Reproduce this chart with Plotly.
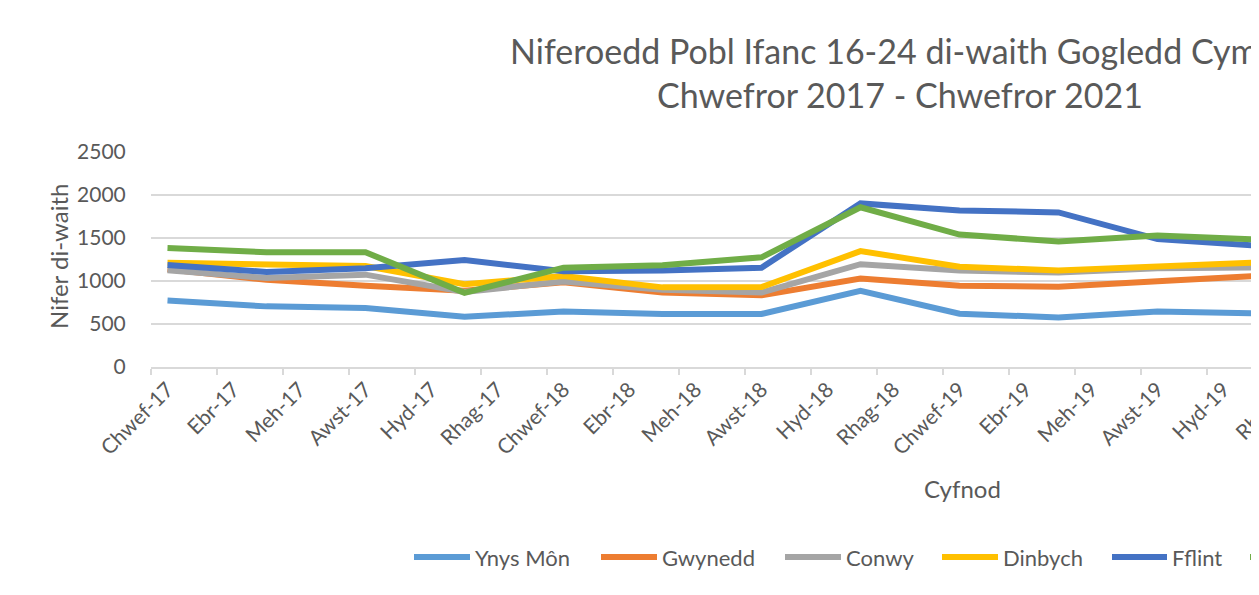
import pandas as pd
import plotly.graph_objects as go

# ---------------- data ----------------
periods = ["2017-02", "2017-05", "2017-08", "2017-11",
           "2018-02", "2018-05", "2018-08", "2018-11",
           "2019-02", "2019-05", "2019-08", "2019-11"]

ynys_mon = [773, 705, 685, 584, 645, 616, 616, 886, 620, 576, 645, 624]
gwynedd  = [1135, 1014, 946, 886, 986, 865, 833, 1030, 946, 934, 998, 1058]
conwy    = [1126, 1034, 1074, 873, 994, 898, 865, 1195, 1122, 1098, 1147, 1159]
dinbych  = [1211, 1187, 1175, 962, 1058, 926, 930, 1347, 1167, 1122, 1175, 1215]
fflint   = [1187, 1106, 1147, 1243, 1114, 1122, 1155, 1902, 1821, 1797, 1488, 1412]
wrecsam  = [1384, 1335, 1335, 862, 1155, 1183, 1275, 1857, 1540, 1460, 1528, 1484]

series_names = ["Ynys Môn", "Gwynedd", "Conwy", "Dinbych", "Fflint", "Wrecsam"]
series_values = [ynys_mon, gwynedd, conwy, dinbych, fflint, wrecsam]
series_colors = ["#5B9BD5", "#ED7D31", "#A5A5A5", "#FFC000", "#4472C4", "#70AD47"]

tick_months = ["2017-02", "2017-04", "2017-06", "2017-08", "2017-10", "2017-12",
               "2018-02", "2018-04", "2018-06", "2018-08", "2018-10", "2018-12",
               "2019-02", "2019-04", "2019-06", "2019-08", "2019-10", "2019-12"]
tick_labels = ["Chwef-17", "Ebr-17", "Meh-17", "Awst-17", "Hyd-17", "Rhag-17",
               "Chwef-18", "Ebr-18", "Meh-18", "Awst-18", "Hyd-18", "Rhag-18",
               "Chwef-19", "Ebr-19", "Meh-19", "Awst-19", "Hyd-19", "Rhag-19"]

y_ticks = [0, 500, 1000, 1500, 2000, 2500]

title_text = "Niferoedd Pobl Ifanc 16-24 di-waith Gogledd Cymru<br>Chwefror 2017 - Chwefror 2021"
y_title = "Nifer di-waith"
x_title = "Cyfnod"

# ---------------- helpers ----------------
start = pd.Period("2017-02", "M")


def month_index(p):
    return (pd.Period(p, "M") - start).n


x_vals = [month_index(p) + 0.5 for p in periods]        # centre of month bucket
tick_pos = [month_index(p) + 0.5 for p in tick_months]  # label positions
tick_marks = [month_index(p) for p in tick_months]      # tick-mark positions

OFF = 8                      # page body margin
W, H = 1259 - OFF, 595 - OFF
L, R, T, B = 151 - OFF, 0, 152 - OFF, 236 - OFF
PW = W - L - R
PH = H - T - B
PX_PER_MONTH = 33.0
x_max = PW / PX_PER_MONTH

TXT = "#595959"
GRID = "#D9D9D9"
FONT = "Lato"


def px_x(px):          # window pixel -> paper fraction
    return (px - OFF - L) / PW


def px_y(py):
    return (H - B - (py - OFF)) / PH


fig = go.Figure()
for name, vals, col in zip(series_names, series_values, series_colors):
    fig.add_trace(go.Scatter(
        x=x_vals, y=vals, mode="lines", name=name,
        line=dict(color=col, width=6),
        showlegend=False,
    ))

# ---------------- manual (cropped) legend ----------------
legend_line_x = [(414, 470), (601, 657), (785, 841), (942, 998), (1112, 1167), (1250, 1306)]
legend_y = 557
shapes = []
annotations = []
for (x0, x1), name, col in zip(legend_line_x, series_names, series_colors):
    shapes.append(dict(type="line", xref="paper", yref="paper",
                       x0=px_x(x0), x1=px_x(x1), y0=px_y(legend_y), y1=px_y(legend_y),
                       line=dict(color=col, width=6)))
    annotations.append(dict(xref="paper", yref="paper", x=px_x(x1 + 3), y=px_y(legend_y),
                            xanchor="left", yanchor="middle", showarrow=False,
                            text=name, font=dict(family=FONT, size=22, color=TXT)))

# chart-area border on the left
shapes.append(dict(type="line", xref="paper", yref="paper",
                   x0=px_x(5), x1=px_x(5), y0=px_y(OFF), y1=px_y(595),
                   line=dict(color=GRID, width=2)))

# axis titles
annotations.append(dict(xref="paper", yref="paper", x=px_x(58), y=px_y(257),
                        xanchor="center", yanchor="middle", showarrow=False, textangle=-90,
                        text=y_title, font=dict(family=FONT, size=24, color=TXT)))
annotations.append(dict(xref="paper", yref="paper", x=px_x(962), y=px_y(488),
                        xanchor="center", yanchor="middle", showarrow=False,
                        text=x_title, font=dict(family=FONT, size=24, color=TXT)))

# last tick label, partly past the right edge (as in the cropped original)
last_label_px = 151 + PX_PER_MONTH * tick_pos[-1] + 16
annotations.append(dict(xref="paper", yref="paper", x=px_x(last_label_px), y=px_y(368),
                        xanchor="right", yanchor="top", showarrow=False, textangle=-45,
                        text=tick_labels[-1], font=dict(family=FONT, size=21, color=TXT)))

fig.update_layout(
    width=W, height=H,
    margin=dict(l=L, r=R, t=T, b=B, pad=0),
    paper_bgcolor="white", plot_bgcolor="white",
    font=dict(family=FONT, color=TXT),
    title=dict(text=title_text, x=(900 - OFF) / W, xanchor="center", xref="container",
               y=1 - 56 / H, yanchor="top", yref="container",
               font=dict(family=FONT, size=34, color=TXT)),
    shapes=shapes,
    annotations=annotations,
    showlegend=False,
)

fig.update_xaxes(
    range=[0, x_max], showgrid=False, zeroline=False,
    showline=True, linecolor=GRID, linewidth=2,
    tickmode="array", tickvals=tick_pos, ticktext=tick_labels,
    tickangle=-45, ticks="", tickfont=dict(family=FONT, size=21, color=TXT),
    minor=dict(tickmode="array", tickvals=tick_marks, ticks="outside",
               ticklen=6, tickwidth=2, tickcolor=GRID, showgrid=False),
)
fig.update_yaxes(
    range=[0, 2500], tickmode="array", tickvals=y_ticks,
    showgrid=True, gridcolor=GRID, gridwidth=2, zeroline=False, showline=False,
    ticks="outside", ticklen=20, tickcolor="rgba(0,0,0,0)",
    tickfont=dict(family=FONT, size=21, color=TXT),
)

fig.write_html("out.html")
